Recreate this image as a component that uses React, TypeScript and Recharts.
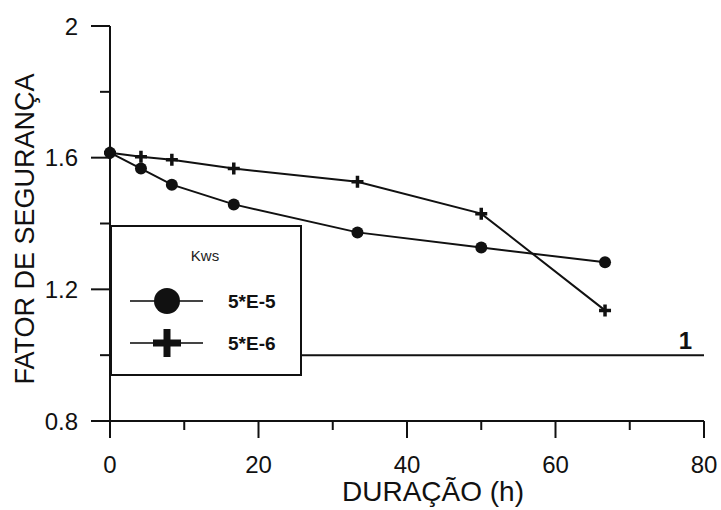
import { LineChart, Line, XAxis, YAxis, ReferenceLine, Legend, Label } from "recharts"

const durationHours = [0, 4.17, 8.33, 16.67, 33.33, 50, 66.67]
const fsKws5e5 = [1.615, 1.567, 1.518, 1.458, 1.373, 1.327, 1.282]
const fsKws5e6 = [1.615, 1.603, 1.594, 1.567, 1.527, 1.43, 1.136]
const seriesNames = ["5*E-5", "5*E-6"]
const legendTitle = "Kws"
const xTicks = [0, 10, 20, 30, 40, 50, 60, 70, 80]
const xTickLabels = ["0", "", "20", "", "40", "", "60", "", "80"]
const yTicks = [0.8, 1, 1.2, 1.4, 1.6, 1.8, 2]
const yTickLabels = ["0.8", "", "1.2", "", "1.6", "", "2"]
const safetyLimit = 1
const xTitle = "DURAÇÃO (h)"
const yTitle = "FATOR DE SEGURANÇA"

const font = "'Liberation Sans', Arial, sans-serif"
const ink = "#111"

const rows = durationHours.map((h, i) => ({ h, a: fsKws5e5[i], b: fsKws5e6[i] }))

function XTick(props: any) {
  const { x, y, payload } = props
  const label = xTickLabels[xTicks.indexOf(payload.value)] ?? ""
  const major = label !== ""
  return (
    <g>
      <line x1={x} x2={x} y1={y} y2={y + (major ? 17 : 9)} stroke={ink} strokeWidth={2} />
      {major && (
        <text x={x} y={y + 52} textAnchor="middle" fontSize={24} fontFamily={font} fill={ink}>
          {label}
        </text>
      )}
    </g>
  )
}

function YTick(props: any) {
  const { x, y, payload } = props
  const label = yTickLabels[yTicks.indexOf(payload.value)] ?? ""
  const major = label !== ""
  return (
    <g>
      <line x1={x} x2={x - (major ? 19 : 10)} y1={y} y2={y} stroke={ink} strokeWidth={2} />
      {major && (
        <text x={x - 32} y={y + 8.5} textAnchor="end" fontSize={24} fontFamily={font} fill={ink}>
          {label}
        </text>
      )}
    </g>
  )
}

function PlusDot(props: any) {
  const { cx, cy, index } = props
  if (cx == null || cy == null) return <g key={index} />
  return (
    <path
      key={index}
      d={`M${cx - 6},${cy}H${cx + 6}M${cx},${cy - 6}V${cy + 6}`}
      stroke={ink}
      strokeWidth={3.5}
    />
  )
}

function LegendBox() {
  return (
    <div
      style={{
        width: 192,
        height: 151,
        boxSizing: "border-box",
        border: `2px solid ${ink}`,
        background: "#fff",
      }}
    >
      <svg width={188} height={147} style={{ display: "block" }}>
        <text x={93} y={34} textAnchor="middle" fontSize={15} fontFamily={font} fill="#222">
          {legendTitle}
        </text>
        <line x1={18} x2={91} y1={74} y2={74} stroke="#444" strokeWidth={2} />
        <circle cx={55} cy={74} r={13} fill={ink} />
        <text x={116} y={81} fontSize={19} fontWeight="bold" fontFamily={font} fill={ink}>
          {seriesNames[0]}
        </text>
        <line x1={18} x2={91} y1={116} y2={116} stroke="#444" strokeWidth={2} />
        <path d="M41,116H69M55,102V130" stroke={ink} strokeWidth={7} />
        <text x={116} y={123} fontSize={19} fontWeight="bold" fontFamily={font} fill={ink}>
          {seriesNames[1]}
        </text>
      </svg>
    </div>
  )
}

export default function App() {
  return (
    <div style={{ position: "absolute", left: 0, top: 0, width: 721, height: 510, background: "#fff" }}>
      <LineChart width={721} height={510} data={rows} margin={{ top: 26, right: 17, bottom: 29, left: 10 }}>
        <XAxis
          dataKey="h"
          type="number"
          domain={[0, 80]}
          ticks={xTicks}
          interval={0}
          tickSize={0}
          tickMargin={0}
          tickLine={false}
          tick={XTick}
          height={60}
          axisLine={{ stroke: ink, strokeWidth: 2 }}
        >
          <Label
            content={() => (
              <text x={433} y={501} textAnchor="middle" fontSize={28} fontFamily={font} fill={ink}>
                {xTitle}
              </text>
            )}
          />
        </XAxis>
        <YAxis
          type="number"
          domain={[0.8, 2]}
          ticks={yTicks}
          interval={0}
          allowDataOverflow
          tickSize={0}
          tickMargin={0}
          tickLine={false}
          tick={YTick}
          width={100}
          axisLine={{ stroke: ink, strokeWidth: 2 }}
        >
          <Label
            content={() => (
              <text
                x={0}
                y={0}
                transform="translate(34,229) rotate(-90)"
                textAnchor="middle"
                fontSize={27}
                fontFamily={font}
                fill={ink}
              >
                {yTitle}
              </text>
            )}
          />
        </YAxis>
        <ReferenceLine
          y={safetyLimit}
          stroke={ink}
          strokeWidth={2}
          label={(p: any) => {
            const vb = p.viewBox || {}
            return (
              <text x={vb.x + vb.width - 12} y={vb.y - 6} textAnchor="end" fontSize={24} fontWeight="bold" fontFamily={font} fill={ink}>
                {String(safetyLimit)}
              </text>
            )
          }}
        />
        <Line
          dataKey="a"
          name={seriesNames[0]}
          type="linear"
          stroke={ink}
          strokeWidth={2}
          dot={{ r: 6, fill: ink, stroke: ink, strokeWidth: 0 }}
          isAnimationActive={false}
        />
        <Line
          dataKey="b"
          name={seriesNames[1]}
          type="linear"
          stroke={ink}
          strokeWidth={2}
          dot={PlusDot}
          isAnimationActive={false}
        />
        <Legend
          layout="horizontal"
          verticalAlign="middle"
          align="center"
          content={() => <LegendBox />}
          wrapperStyle={{ left: 110, top: 225, width: 192, height: 151 }}
        />
      </LineChart>
    </div>
  )
}
